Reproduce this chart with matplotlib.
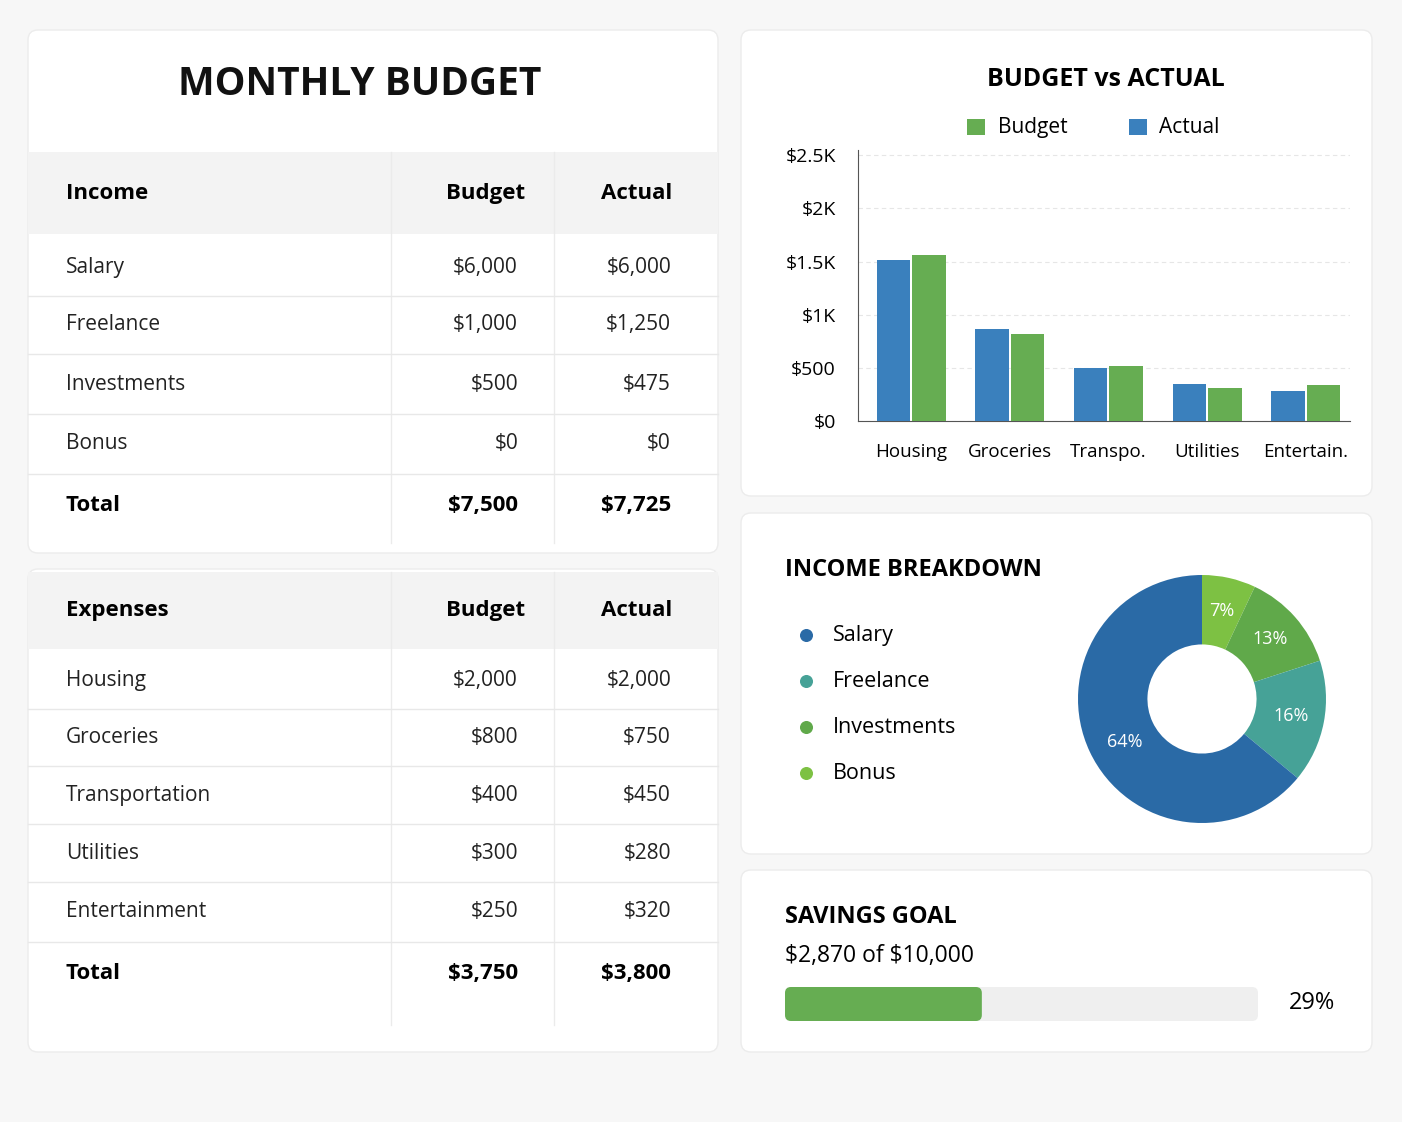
import matplotlib
matplotlib.use("Agg")
import matplotlib.pyplot as plt
from matplotlib.patches import FancyBboxPatch, Rectangle

plt.rcParams['font.family'] = ['Open Sans', 'DejaVu Sans']
plt.rcParams['text.parse_math'] = False

income_rows = ["Salary", "Freelance", "Investments", "Bonus"]
income_budget = ["$6,000", "$1,000", "$500", "$0"]
income_actual = ["$6,000", "$1,250", "$475", "$0"]
income_total = ("$7,500", "$7,725")

expense_rows = ["Housing", "Groceries", "Transportation", "Utilities", "Entertainment"]
expense_budget = ["$2,000", "$800", "$400", "$300", "$250"]
expense_actual = ["$2,000", "$750", "$450", "$280", "$320"]
expense_total = ("$3,750", "$3,800")

bar_cats = ["Housing", "Groceries", "Transpo.", "Utilities", "Entertain."]
bar_blue = [1513, 865, 498, 348, 282]
bar_green = [1560, 818, 517, 310, 338]
ytick_vals = [0, 500, 1000, 1500, 2000, 2500]
ytick_labels = ["$0", "$500", "$1K", "$1.5K", "$2K", "$2.5K"]

pie_labels = ["Salary", "Freelance", "Investments", "Bonus"]
pie_vals = [64, 16, 13, 7]
pie_colors = ["#2a6aa6", "#46a297", "#60a94a", "#7dc143"]

saved, goal = 2870, 10000

BLUE = "#3a80bd"; GREEN = "#66ad52"

W, H = 1402, 1122
fig = plt.figure(figsize=(W/100, H/100), dpi=100, facecolor="#f7f7f7")
bg = fig.add_axes([0, 0, 1, 1])
bg.set_xlim(0, W); bg.set_ylim(H, 0); bg.axis("off")

def panel(x0, y0, x1, y1):
    bg.add_patch(FancyBboxPatch((x0, y0), x1-x0, y1-y0, boxstyle="round,pad=0,rounding_size=10",
                                fc="white", ec="#ececec", lw=1, zorder=1))

panel(28, 30, 718, 553); panel(28, 569, 718, 1052)
panel(741, 30, 1372, 496); panel(741, 513, 1372, 854); panel(741, 870, 1372, 1052)

bg.text(360, 84, "MONTHLY BUDGET", fontsize=28, fontweight="bold", ha="center", va="center", color="#111", zorder=3)

def table(hy0, hy1, title, rows, bud, act, tot, row_y, tot_y, bottom):
    bg.add_patch(Rectangle((28, hy0), 690, hy1-hy0, fc="#f3f3f3", ec="none", zorder=2))
    hc = (hy0+hy1)/2
    bg.text(66, hc, title, fontsize=16, fontweight="bold", va="center", zorder=3)
    bg.text(525, hc, "Budget", fontsize=16, fontweight="bold", va="center", ha="right", zorder=3)
    bg.text(672, hc, "Actual", fontsize=16, fontweight="bold", va="center", ha="right", zorder=3)
    for x in (391, 554):
        bg.plot([x, x], [hy0, bottom], color="#ebebeb", lw=1, zorder=2)
    ys = list(row_y)
    for i, (r, b, a) in enumerate(zip(rows, bud, act)):
        y = ys[i]
        bg.text(66, y, r, fontsize=15, va="center", zorder=3, color="#222")
        bg.text(518, y, b, fontsize=15, va="center", ha="right", zorder=3, color="#222")
        bg.text(671, y, a, fontsize=15, va="center", ha="right", zorder=3, color="#222")
        nxt = ys[i+1] if i+1 < len(ys) else tot_y
        bg.plot([28, 718], [(y+nxt)/2, (y+nxt)/2], color="#e8e8e8", lw=1, zorder=2)
    bg.text(66, tot_y, "Total", fontsize=16, fontweight="bold", va="center", zorder=3)
    bg.text(518, tot_y, tot[0], fontsize=16, fontweight="bold", va="center", ha="right", zorder=3)
    bg.text(671, tot_y, tot[1], fontsize=16, fontweight="bold", va="center", ha="right", zorder=3)

table(152, 234, "Income", income_rows, income_budget, income_actual, income_total,
      [267, 324, 384, 443], 505, 543)
table(572, 649, "Expenses", expense_rows, expense_budget, expense_actual, expense_total,
      [680, 737, 795, 853, 911], 973, 1025)

# Bar chart
bg.text(1106, 79, "BUDGET vs ACTUAL", fontsize=18, fontweight="bold", ha="center", va="center", zorder=3)
bg.add_patch(Rectangle((967, 119), 18, 16, fc=GREEN, zorder=3))
bg.text(998, 127, "Budget", fontsize=15, va="center", zorder=3)
bg.add_patch(Rectangle((1129, 119), 18, 16, fc=BLUE, zorder=3))
bg.text(1159, 127, "Actual", fontsize=15, va="center", zorder=3)

ax = fig.add_axes([858/W, 1-421/H, (1350-858)/W, (421-150)/H])
ax.set_facecolor("none")
x = list(range(len(bar_cats)))
bw = 0.34
ax.bar([i-0.18 for i in x], bar_blue, bw, color=BLUE, zorder=3)
ax.bar([i+0.18 for i in x], bar_green, bw, color=GREEN, zorder=3)
ax.set_xlim(-0.54, 4.45); ax.set_ylim(0, 2550)
ax.set_yticks(ytick_vals); ax.set_yticklabels(ytick_labels, fontsize=14)
ax.set_xticks(x); ax.set_xticklabels(bar_cats, fontsize=13.5)
ax.tick_params(length=0, pad=16)
ax.tick_params(axis="y", pad=16)
ax.grid(axis="y", color="#e6e6e6", ls=(0, (4, 3)), lw=0.8, zorder=0)
for s in ("top", "right"): ax.spines[s].set_visible(False)
for s in ("left", "bottom"): ax.spines[s].set_color("#555")

# Donut
bg.text(785, 570, "INCOME BREAKDOWN", fontsize=17, fontweight="bold", va="center", zorder=3)
for i, (lab, c) in enumerate(zip(pie_labels, pie_colors)):
    y = 635 + 46*i
    bg.scatter([806], [y], s=70, color=c, zorder=3)
    bg.text(833, y, lab, fontsize=15.5, va="center", zorder=3)
r = 124
pax = fig.add_axes([(1202-r)/W, 1-(699+r)/H, 2*r/W, 2*r/H])
vals = pie_vals[::-1]; cols = pie_colors[::-1]
wedges, _, autot = pax.pie(vals, colors=cols, startangle=90, counterclock=False,
                           wedgeprops=dict(width=0.56, edgecolor="none"),
                           autopct="%d%%", pctdistance=0.73,
                           textprops=dict(color="white", fontsize=13))
autot[-1].set_position((-0.62, -0.35))
pax.set_xlim(-1, 1); pax.set_ylim(-1, 1); pax.set_aspect("equal")

# Savings
bg.text(785, 917, "SAVINGS GOAL", fontsize=17, fontweight="bold", va="center", zorder=3)
bg.text(785, 956, f"${saved:,} of ${goal:,}", fontsize=16.5, va="center", zorder=3)
bx0, bx1 = 785, 1258
bg.add_patch(FancyBboxPatch((bx0, 987), bx1-bx0, 34, boxstyle="round,pad=0,rounding_size=6",
                            fc="#efefef", ec="none", zorder=3))
bg.add_patch(FancyBboxPatch((bx0, 987), (bx1-bx0)*saved/goal*1.45, 34, boxstyle="round,pad=0,rounding_size=6",
                            fc=GREEN, ec="none", zorder=4))
bg.text(1312, 1003, f"{round(saved/goal*100)}%", fontsize=17, ha="center", va="center", zorder=3)

fig.savefig("out.png", dpi=100, facecolor=fig.get_facecolor())
